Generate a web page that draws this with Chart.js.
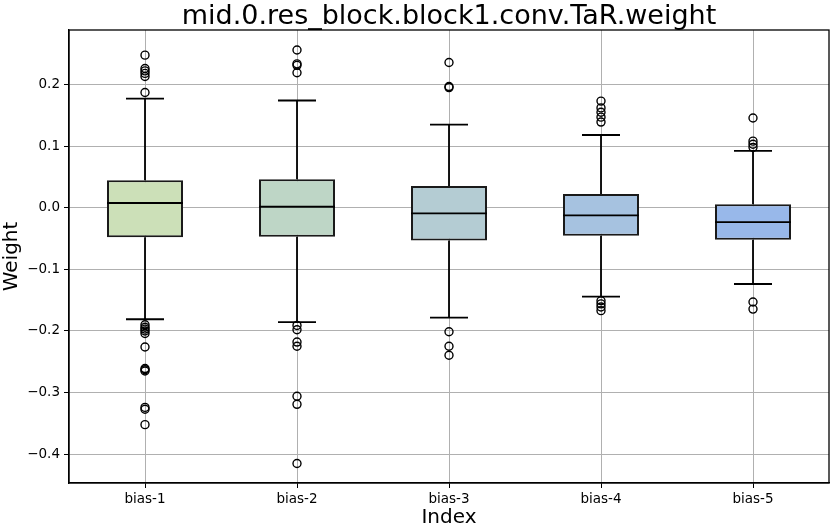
<!DOCTYPE html>
<html>
<head>
<meta charset="utf-8">
<script src="https://cdn.jsdelivr.net/npm/chart.js@4"></script>
<style>
  html, body { margin: 0; padding: 0; background: #fff; overflow: hidden; }
  canvas { display: block; }
</style>
</head>
<body>
<canvas id="chart" width="831" height="528" style="width:831px;height:528px"></canvas>
<script>
const labels = ["bias-1", "bias-2", "bias-3", "bias-4", "bias-5"];
const q1 = [-0.048, -0.047, -0.0531, -0.0456, -0.0521];
const q3 = [0.0446, 0.0462, 0.0353, 0.0223, 0.0055];
const medians = [0.0077, 0.0016, -0.0091, -0.0124, -0.0233];
const whiskerLow = [-0.181, -0.1857, -0.1785, -0.1443, -0.1238];
const whiskerHigh = [0.177, 0.174, 0.1347, 0.118, 0.0923];
const outliers = [
  [0.2476, 0.226, 0.222, 0.218, 0.213, 0.187, -0.19, -0.194, -0.197, -0.2, -0.204, -0.226, -0.261, -0.263, -0.265, -0.324, -0.327, -0.352],
  [0.256, 0.2335, 0.231, 0.219, -0.191, -0.198, -0.218, -0.2248, -0.306, -0.319, -0.415],
  [0.2357, 0.1966, 0.195, -0.2013, -0.2248, -0.2394],
  [0.173, 0.162, 0.155, 0.147, 0.139, -0.151, -0.156, -0.161, -0.167],
  [0.1456, 0.108, 0.103, 0.098, -0.153, -0.1645]
];
const yTicks = [-0.4, -0.3, -0.2, -0.1, 0.0, 0.1, 0.2];
const boxColors = ["#cce0b8", "#bed6c6", "#b4ccd3", "#a6c2e0", "#98b8ea"];

const FONT = "'DejaVu Sans', sans-serif";

// whiskers, caps, medians and the top/right frame
const boxExtras = {
  id: "boxExtras",
  afterDatasetsDraw(chart) {
    const ctx = chart.ctx;
    const x = chart.scales.x;
    const y = chart.scales.y;
    const step = x.getPixelForValue(1) - x.getPixelForValue(0);
    ctx.save();
    ctx.strokeStyle = "#000";
    ctx.lineWidth = 1.8;
    labels.forEach((l, i) => {
      const cx = x.getPixelForValue(i);
      const half = step * 0.25;
      const cap = step * 0.125;
      ctx.beginPath();
      ctx.moveTo(cx, y.getPixelForValue(q3[i]));
      ctx.lineTo(cx, y.getPixelForValue(whiskerHigh[i]));
      ctx.moveTo(cx, y.getPixelForValue(q1[i]));
      ctx.lineTo(cx, y.getPixelForValue(whiskerLow[i]));
      ctx.moveTo(cx - cap, y.getPixelForValue(whiskerHigh[i]));
      ctx.lineTo(cx + cap, y.getPixelForValue(whiskerHigh[i]));
      ctx.moveTo(cx - cap, y.getPixelForValue(whiskerLow[i]));
      ctx.lineTo(cx + cap, y.getPixelForValue(whiskerLow[i]));
      ctx.moveTo(cx - half, y.getPixelForValue(medians[i]));
      ctx.lineTo(cx + half, y.getPixelForValue(medians[i]));
      ctx.stroke();
    });
    const a = chart.chartArea;
    ctx.lineWidth = 1.3;
    ctx.strokeRect(a.left, a.top, a.right - a.left, a.bottom - a.top);
    ctx.restore();
  }
};

const outlierPoints = [];
outliers.forEach((arr, i) => arr.forEach(v => outlierPoints.push({ x: labels[i], y: v })));

new Chart(document.getElementById("chart"), {
  type: "bar",
  data: {
    labels: labels,
    datasets: [
      {
        type: "line",
        data: outlierPoints,
        showLine: false,
        pointStyle: "circle",
        pointRadius: 4,
        pointBorderWidth: 1.4,
        pointBorderColor: "#000",
        pointBackgroundColor: "rgba(0,0,0,0)",
        order: 0
      },
      {
        data: labels.map((l, i) => [q1[i], q3[i]]),
        backgroundColor: boxColors,
        borderColor: "#1a1a1a",
        borderWidth: 2,
        borderSkipped: false,
        barPercentage: 0.5,
        categoryPercentage: 1.0,
        order: 1
      }
    ]
  },
  options: {
    responsive: false,
    animation: false,
    devicePixelRatio: 1,
    layout: { autoPadding: false, padding: { left: 0, right: 2, top: 0, bottom: 0 } },
    plugins: {
      legend: { display: false },
      tooltip: { enabled: false },
      title: {
        display: true,
        fullSize: false,
        text: "mid.0.res_block.block1.conv.TaR.weight",
        color: "#000",
        font: { family: FONT, size: 27, weight: "normal", lineHeight: 1.0 },
        padding: { top: 3, bottom: 0 }
      }
    },
    scales: {
      x: {
        offset: true,
        grid: {
          offset: false,
          color: "#b0b0b0",
          lineWidth: 1,
          tickColor: "#000",
          tickLength: 5,
          tickWidth: 1
        },
        border: { display: true, color: "#000", width: 1.3 },
        ticks: { color: "#000", font: { family: FONT, size: 13.5 }, padding: 3 },
        title: {
          display: true,
          text: "Index",
          color: "#000",
          font: { family: FONT, size: 20, lineHeight: 1.0 },
          padding: { top: 0, bottom: 0 }
        },
        afterFit(scale) {
          scale.height = 45;
          scale.paddingLeft = 0;
          scale.paddingRight = 0;
        }
      },
      y: {
        min: -0.4467,
        max: 0.2884,
        afterBuildTicks(scale) { scale.ticks = yTicks.map(v => ({ value: v })); },
        grid: {
          color: "#b0b0b0",
          lineWidth: 1,
          tickColor: "#000",
          tickLength: 5,
          tickWidth: 1
        },
        border: { display: true, color: "#000", width: 1.3 },
        ticks: {
          color: "#000",
          font: { family: FONT, size: 13.5 },
          padding: 4,
          callback: v => v.toFixed(1).replace("-", "\u2212")
        },
        title: {
          display: true,
          text: "Weight",
          color: "#000",
          font: { family: FONT, size: 20 },
          padding: { top: 0, bottom: 4 }
        },
        afterFit(scale) { scale.width = 69; }
      }
    }
  },
  plugins: [boxExtras]
});
</script>
</body>
</html>
